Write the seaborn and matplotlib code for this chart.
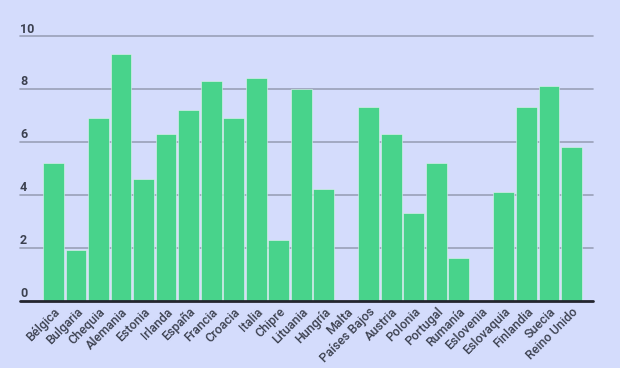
import matplotlib
matplotlib.use("Agg")
import matplotlib.pyplot as plt
import matplotlib.transforms as mtransforms
import seaborn as sns
import pandas as pd

# Data
countries = ["Bélgica", "Bulgaria", "Chequia", "Alemania", "Estonia", "Irlanda",
             "España", "Francia", "Croacia", "Italia", "Chipre", "Lituania",
             "Hungría", "Malta", "Países Bajos", "Austria", "Polonia", "Portugal",
             "Rumanía", "Eslovenia", "Eslovaquia", "Finlandia", "Suecia", "Reino Unido"]
values = [5.2, 1.9, 6.9, 9.3, 4.6, 6.3,
          7.2, 8.3, 6.9, 8.4, 2.3, 8.0,
          4.2, 0.0, 7.3, 6.3, 3.3, 5.2,
          1.6, 0.0, 4.1, 7.3, 8.1, 5.8]
y_ticks = [0, 2, 4, 6, 8, 10]

bg = "#D4DCFC"
bar_color = "#48D38B"
text_color = "#3C4150"

sns.set_theme(style="white")
plt.rcParams["font.family"] = ["Roboto", "DejaVu Sans"]

df = pd.DataFrame({"country": countries, "value": values})

fig = plt.figure(figsize=(6.2, 3.68), dpi=100)
fig.patch.set_facecolor(bg)
ax = fig.add_axes([20 / 620, 1 - 300.5 / 368, 573 / 620, (300.5 - 35.7) / 368])
ax.set_facecolor(bg)

sns.barplot(data=df, x="country", y="value", color=bar_color, saturation=1,
            width=0.92, ax=ax, zorder=2, edgecolor="#E6F2F0", linewidth=0.4)

ax.set_xlim(-1.49, 23.96)
ax.set_ylim(0, 10)

# horizontal gridlines with labels sitting above them at the left
trans = mtransforms.blended_transform_factory(ax.transAxes, ax.transData)
for t in y_ticks:
    if t == 0:
        ax.axhline(t, color="#23252E", lw=2, zorder=3, clip_on=False)
    else:
        ax.axhline(t, color="#9AA0B8", lw=1.2, zorder=1, clip_on=False)
    ax.text(0.0, t + 0.12, str(t), transform=trans, ha="left", va="baseline",
            fontsize=9, color=text_color, fontweight="bold")

ax.set_yticks([])
ax.set_xlabel("")
ax.set_ylabel("")
for s in ax.spines.values():
    s.set_visible(False)

ax.tick_params(axis="x", length=0, pad=3.5)
plt.setp(ax.get_xticklabels(), rotation=45, ha="right", va="top",
         rotation_mode="anchor", fontsize=9, color=text_color,
         fontweight="medium")

fig.savefig("out.png", dpi=100, facecolor=bg)
